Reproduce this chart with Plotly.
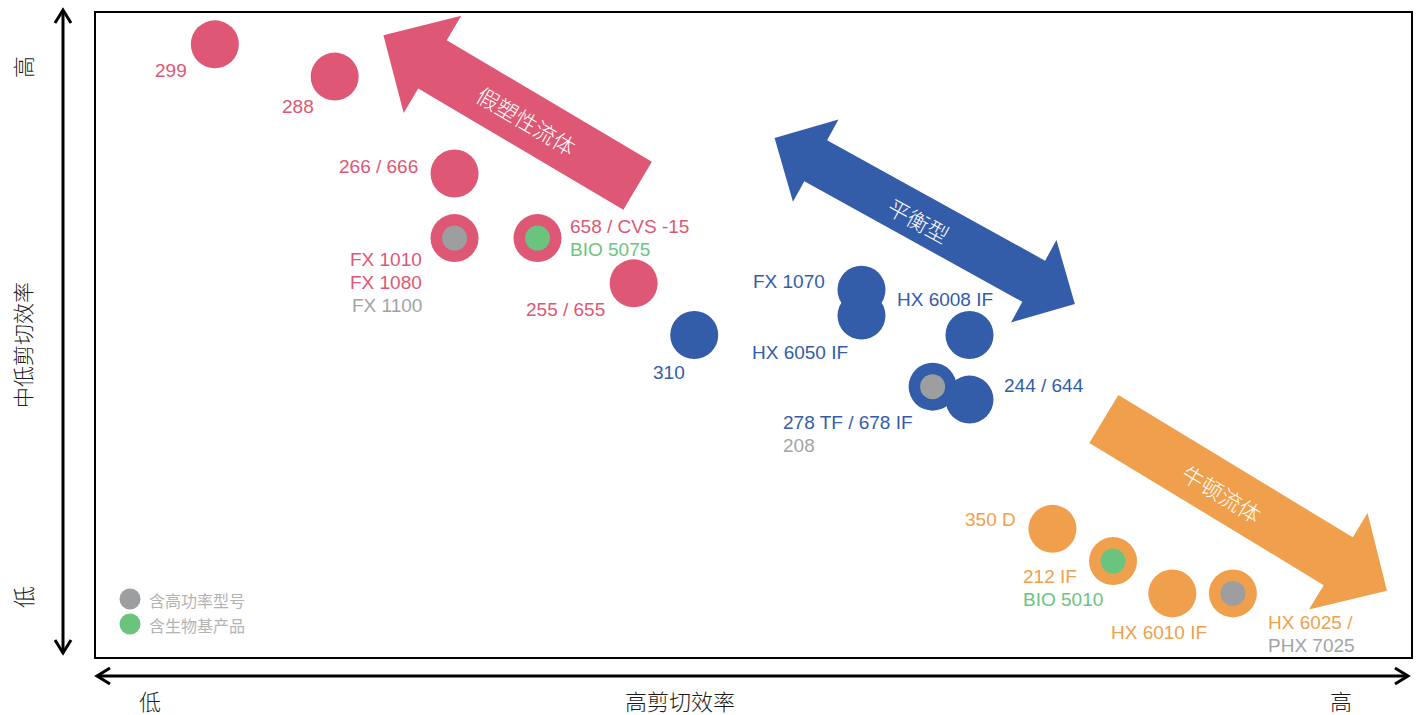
import math
import plotly.graph_objects as go

# ---------------- data ----------------
models = ["299", "288", "266 / 666", "FX 1010", "658 / CVS -15", "255 / 655", "310",
          "FX 1070", "HX 6050 IF", "HX 6008 IF", "278 TF / 678 IF", "244 / 644",
          "350 D", "212 IF", "HX 6010 IF", "HX 6025 /"]
high_shear = [9.1, 18.2, 27.3, 27.3, 33.6, 40.9, 45.5,
              58.2, 58.2, 66.4, 63.6, 66.4,
              72.7, 77.3, 81.8, 86.4]
mid_low_shear = [95.0, 90.0, 75.0, 65.0, 65.0, 58.0, 50.0,
                 57.0, 53.0, 50.0, 42.0, 40.0,
                 20.0, 15.0, 10.0, 10.0]
group = ["pseudo", "pseudo", "pseudo", "pseudo", "pseudo", "pseudo", "balanced",
         "balanced", "balanced", "balanced", "balanced", "balanced",
         "newton", "newton", "newton", "newton"]
feature = ["", "", "", "power", "bio", "", "",
           "", "", "", "power", "",
           "", "bio", "", "power"]
# extra product names sharing a marker: (text, kind)
extra_names = {
    "FX 1010": [("FX 1080", "main"), ("FX 1100", "power")],
    "658 / CVS -15": [("BIO 5075", "bio")],
    "278 TF / 678 IF": [("208", "power")],
    "212 IF": [("BIO 5010", "bio")],
    "HX 6025 /": [("PHX 7025", "power")],
}
group_names = {"pseudo": "假塑性流体", "balanced": "平衡型", "newton": "牛顿流体"}
legend_items = [("power", "含高功率型号"), ("bio", "含生物基产品")]
x_title = "高剪切效率"
y_title = "中低剪切效率"
low_label, high_label = "低", "高"

# ---------------- styles / layout ----------------
W, H = 1424, 715
PL, PR, PT, PB = 95, 1412, 12, 658
COL = {"pseudo": "#DE5774", "balanced": "#335CA9", "newton": "#F0A04C"}
FEAT_COL = {"power": "#9D9EA0", "bio": "#6AC47E"}
FEAT_TXT = {"power": "#A3A4A6", "bio": "#6CC47F"}
LEGEND_TXT = "#B3B3B3"
LATIN = "Liberation Sans, Arial, sans-serif"
CJK = "Noto Sans CJK SC, sans-serif"

# label placement (pixel offsets from marker centre): anchor, dx, dy(down)
label_pos = {
    "299": ("right", -26, 26), "288": ("right", -19, 30), "266 / 666": ("right", -35, -7),
    "FX 1010": ("right", -31, 21), "658 / CVS -15": ("left", 30, -12),
    "255 / 655": ("right", -27, 26), "310": ("center", -25, 37),
    "FX 1070": ("right", -34, -8), "HX 6050 IF": ("right", -11, 37),
    "HX 6008 IF": ("center", -24, -36), "278 TF / 678 IF": ("left", -152, 36),
    "244 / 644": ("left", 33, -14), "350 D": ("right", -34, -9),
    "212 IF": ("left", -92, 15), "HX 6010 IF": ("center", -13, 39),
    "HX 6025 /": ("left", 33, 29),
}
LINE_H = 23

# arrows (in data units): tail, tip, shaft width px, head width px, head length px, double
arrows = {
    "pseudo": dict(tail=(41.2, 73.1), tip=(21.9, 96.4), sw=56, hw=113, hl=57, double=False,
                   text_at=(32.8, 83.3)),
    "balanced": dict(tail=(51.6, 80.5), tip=(74.4, 54.8), sw=47, hw=94, hl=47, double=True,
                     text_at=(62.6, 67.8)),
    "newton": dict(tail=(76.6, 37.0), tip=(98.1, 10.4), sw=56, hw=113, hl=57, double=False,
                   text_at=(85.6, 25.5)),
}


def d2p(x, y):
    return PL + x / 100 * (PR - PL), PB - y / 100 * (PB - PT)


def p2d(px, py):
    return (px - PL) / (PR - PL) * 100, (PB - py) / (PB - PT) * 100


def p2paper(px, py):
    return (px - PL) / (PR - PL), (PB - py) / (PB - PT)


def arrow_path(tail, tip, sw, hw, hl, double):
    t = d2p(*tail)
    h = d2p(*tip)
    L = math.hypot(h[0] - t[0], h[1] - t[1])
    ux, uy = (h[0] - t[0]) / L, (h[1] - t[1]) / L
    nx, ny = -uy, ux

    def P(base, along, perp):
        return (base[0] + ux * along + nx * perp, base[1] + uy * along + ny * perp)

    pts = []
    if double:
        pts += [t, P(t, hl, hw / 2), P(t, hl, sw / 2)]
    else:
        pts += [P(t, 0, sw / 2)]
    pts += [P(h, -hl, sw / 2), P(h, -hl, hw / 2), h, P(h, -hl, -hw / 2), P(h, -hl, -sw / 2)]
    if double:
        pts += [P(t, hl, -sw / 2), P(t, hl, -hw / 2)]
    else:
        pts += [P(t, 0, -sw / 2)]
    dpts = [p2d(*p) for p in pts]
    path = "M " + " L ".join(f"{x:.3f},{y:.3f}" for x, y in dpts) + " Z"
    ang = math.degrees(math.atan2(abs(h[1] - t[1]), abs(h[0] - t[0])))
    return path, ang


fig = go.Figure()

# outer circles by group
for g in ["pseudo", "balanced", "newton"]:
    idx = [i for i, gg in enumerate(group) if gg == g]
    fig.add_trace(go.Scatter(
        x=[high_shear[i] for i in idx], y=[mid_low_shear[i] for i in idx],
        mode="markers", name=group_names[g], showlegend=False,
        marker=dict(size=48, color=COL[g], line=dict(width=0)),
        hoverinfo="text", text=[models[i] for i in idx]))

# inner feature dots
for f in ["power", "bio"]:
    idx = [i for i, ff in enumerate(feature) if ff == f]
    fig.add_trace(go.Scatter(
        x=[high_shear[i] for i in idx], y=[mid_low_shear[i] for i in idx],
        mode="markers", showlegend=False,
        marker=dict(size=25, color=FEAT_COL[f], line=dict(width=0)),
        hoverinfo="skip"))

shapes = []
annotations = []

# arrows
for g, a in arrows.items():
    path, ang = arrow_path(a["tail"], a["tip"], a["sw"], a["hw"], a["hl"], a["double"])
    shapes.append(dict(type="path", xref="x", yref="y", path=path,
                       fillcolor=COL[g], line=dict(width=0), layer="below"))
    annotations.append(dict(x=a["text_at"][0], y=a["text_at"][1], xref="x", yref="y",
                            text=group_names[g], showarrow=False, textangle=ang,
                            font=dict(family=CJK, size=22, color="white", weight=300)))

# point labels
for i, m in enumerate(models):
    anchor, dx, dy = label_pos[m]
    lines = [(m, "main")] + extra_names.get(m, [])
    for k, (txt, kind) in enumerate(lines):
        color = COL[group[i]] if kind == "main" else FEAT_TXT[kind]
        annotations.append(dict(x=high_shear[i], y=mid_low_shear[i], xref="x", yref="y",
                                text=txt, showarrow=False, xanchor=anchor, yanchor="middle",
                                xshift=dx, yshift=-(dy + k * LINE_H),
                                font=dict(family=LATIN, size=19, color=color)))

# frame
shapes.append(dict(type="rect", xref="paper", yref="paper", x0=0, y0=0, x1=1, y1=1,
                   line=dict(color="black", width=2), layer="above"))


def ppath(points):
    return "M " + " L ".join(f"{x:.5f},{y:.5f}" for x, y in (p2paper(*p) for p in points))


axis_line = dict(color="black", width=3)
# vertical axis arrow
shapes.append(dict(type="path", xref="paper", yref="paper",
                   path=ppath([(63, 10), (63, 653)]), line=axis_line))
shapes.append(dict(type="path", xref="paper", yref="paper",
                   path=ppath([(55, 23), (63, 10), (71, 23)]), line=axis_line))
shapes.append(dict(type="path", xref="paper", yref="paper",
                   path=ppath([(55, 640), (63, 653), (71, 640)]), line=axis_line))
# horizontal axis arrow
shapes.append(dict(type="path", xref="paper", yref="paper",
                   path=ppath([(97, 676), (1408, 676)]), line=axis_line))
shapes.append(dict(type="path", xref="paper", yref="paper",
                   path=ppath([(110, 668), (97, 676), (110, 684)]), line=axis_line))
shapes.append(dict(type="path", xref="paper", yref="paper",
                   path=ppath([(1395, 668), (1408, 676), (1395, 684)]), line=axis_line))

# axis texts
for txt, (px, py), ang, sz in [(high_label, (22, 67), -90, 22), (y_title, (22, 345), -90, 21),
                               (low_label, (22, 597), -90, 22), (low_label, (150, 700), 0, 22),
                               (x_title, (680, 700), 0, 22), (high_label, (1341, 700), 0, 22)]:
    xx, yy = p2paper(px, py)
    annotations.append(dict(x=xx, y=yy, xref="paper", yref="paper", text=txt,
                            showarrow=False, textangle=ang, xanchor="center",
                            yanchor="middle",
                            font=dict(family=CJK, size=sz, color="#1a1a1a", weight=300)))

# legend (drawn)
for k, (f, txt) in enumerate(legend_items):
    cx, cy = p2paper(130, 599 + 25 * k)
    shapes.append(dict(type="circle", xref="paper", yref="paper", xsizemode="pixel",
                       ysizemode="pixel", xanchor=cx, yanchor=cy, x0=-10.5, x1=10.5,
                       y0=-10.5, y1=10.5, fillcolor=FEAT_COL[f], line=dict(width=0)))
    tx, ty = p2paper(147, 600 + 25 * k)
    annotations.append(dict(x=tx, y=ty, xref="paper", yref="paper", text=txt,
                            showarrow=False, xanchor="left", yanchor="middle",
                            font=dict(family=CJK, size=16, color=LEGEND_TXT)))

fig.update_layout(
    width=W, height=H,
    margin=dict(l=PL, r=W - PR, t=PT, b=H - PB, pad=0),
    paper_bgcolor="white", plot_bgcolor="white",
    xaxis=dict(range=[0, 100], visible=False, fixedrange=True),
    yaxis=dict(range=[0, 100], visible=False, fixedrange=True),
    shapes=shapes, annotations=annotations, showlegend=False,
    font=dict(family=LATIN),
)

fig.write_html("out.html")
